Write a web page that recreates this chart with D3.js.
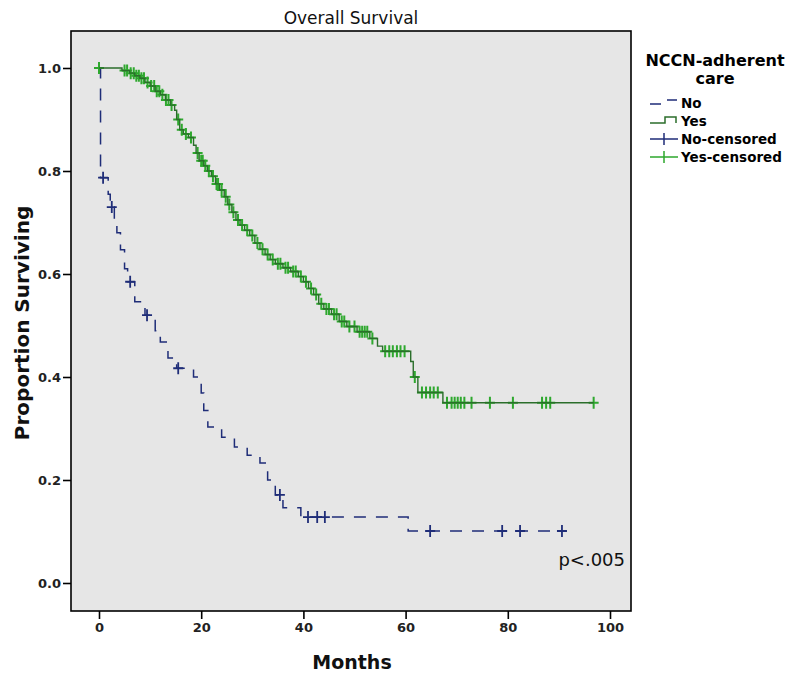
<!DOCTYPE html>
<html>
<head>
<meta charset="utf-8">
<script src="https://cdn.jsdelivr.net/npm/d3@7"></script>
<style>
  body { margin: 0; background: #fff; }
  text { font-family: "DejaVu Sans", Verdana, sans-serif; }
</style>
</head>
<body>
<div id="vis"></div>
<script>
// survival steps (months, proportion after the step)
var yesTimes = [4.5, 6, 7, 8, 9, 10, 11, 12, 13, 14, 14.8, 15.2, 15.8, 16.5, 17.5, 18.5, 19, 19.6,
  20.5, 21.2, 22, 22.8, 23.6, 24.5, 25.2, 26, 26.8, 27.6, 28.5, 29.5, 30.5, 31.5, 32.5, 33.5, 34.5,
  36, 37.5, 39, 40, 41, 42, 43, 44, 45.5, 47, 48.5, 50.5, 53, 54.5, 55.5, 61, 61.5, 62.4, 67.3];
var yesSurv = [0.995, 0.99, 0.985, 0.98, 0.972, 0.965, 0.955, 0.948, 0.938, 0.928, 0.918, 0.90, 0.88,
  0.872, 0.865, 0.85, 0.835, 0.82, 0.81, 0.80, 0.79, 0.775, 0.763, 0.75, 0.735, 0.72, 0.705, 0.695,
  0.685, 0.675, 0.66, 0.648, 0.638, 0.628, 0.62, 0.612, 0.605, 0.595, 0.585, 0.572, 0.56, 0.542,
  0.532, 0.522, 0.508, 0.498, 0.488, 0.475, 0.46, 0.45, 0.43, 0.40, 0.37, 0.35];
var yesCensored = [0, 5, 5.5, 6.2, 6.8, 7.3, 7.8, 8.3, 8.8, 9.5, 10.2, 10.8, 11.3, 11.8, 12.4, 13.1,
  13.6, 14.2, 15.5, 16.2, 17, 18, 19.3, 20, 20.3, 20.8, 21.5, 22.3, 23, 23.3, 24, 24.8, 25.5, 26.3,
  27.2, 28, 29, 30, 31, 32, 33, 34, 35, 35.5, 36.5, 37, 38, 38.5, 39.5, 40.5, 41.5, 42.5, 43.5,
  44.5, 45, 46, 46.5, 47.5, 48, 49, 50, 51, 51.5, 52, 52.5, 53.5, 56, 56.8, 57.5, 58.3, 59, 59.8,
  61.8, 63.2, 64, 64.8, 65.5, 66.3, 68.1, 69, 69.6, 70.2, 70.8, 71.5, 72.9, 76.5, 81, 86.7, 87.5,
  88.3, 96.8];

var noTimes = [0.3, 1.8, 2.2, 3.0, 3.5, 4.2, 5.0, 5.6, 7.0, 9.0, 11.0, 12.0, 13.5, 15.2, 18.5, 20.0,
  20.5, 21.3, 24.0, 26.5, 29.0, 31.5, 33.0, 34.5, 36.0, 39.5, 60.5];
var noSurv = [0.787, 0.755, 0.73, 0.70, 0.68, 0.647, 0.61, 0.585, 0.546, 0.52, 0.49, 0.468, 0.437,
  0.417, 0.40, 0.369, 0.335, 0.303, 0.283, 0.264, 0.248, 0.233, 0.20, 0.171, 0.146, 0.128, 0.101];
var noCensored = [0.8, 2.5, 6.1, 9.4, 15.5, 35.4, 40.9, 42.7, 44.2, 64.8, 78.9, 82.4, 90.6];

var xTicks = [0, 20, 40, 60, 80, 100];
var yTicks = [0, 0.2, 0.4, 0.6, 0.8, 1.0];
var legendLabels = ['No', 'Yes', 'No-censored', 'Yes-censored'];

var width = 800, height = 680;
var frame = { left: 71, right: 631, top: 31, bottom: 611 };
var blue = '#1f2d78', greenLine = '#2b6e2b', greenMark = '#2ea82e';

var svg = d3.select('#vis').append('svg')
  .attr('width', width)
  .attr('height', height);

var x = d3.scaleLinear().domain([0, 100]).range([99, 610]);
var y = d3.scaleLinear().domain([0, 1]).range([583, 68]);

// plot background and frame
svg.append('rect')
  .attr('x', frame.left)
  .attr('y', frame.top)
  .attr('width', frame.right - frame.left)
  .attr('height', frame.bottom - frame.top)
  .attr('fill', '#e6e6e6')
  .attr('stroke', '#000')
  .attr('stroke-width', 1.6);

// axes
var xAxis = svg.append('g')
  .attr('transform', 'translate(0,' + frame.bottom + ')')
  .call(d3.axisBottom(x).tickValues(xTicks).tickSize(8).tickPadding(4));
var yAxis = svg.append('g')
  .attr('transform', 'translate(' + frame.left + ',0)')
  .call(d3.axisLeft(y).tickValues(yTicks).tickSize(8).tickPadding(2).tickFormat(d3.format('.1f')));

[xAxis, yAxis].forEach(function (a) {
  a.select('.domain').remove();
  a.selectAll('line').attr('stroke', '#000').attr('stroke-width', 1.6);
  a.selectAll('text')
    .attr('fill', '#222')
    .style('font-family', '"DejaVu Sans", Verdana, sans-serif')
    .style('font-size', '13px')
    .style('font-weight', 'bold');
});

// step helpers
function stepPoints(times, surv, end) {
  var pts = [[0, 1]];
  times.forEach(function (t, i) { pts.push([t, surv[i]]); });
  pts.push([end, surv[surv.length - 1]]);
  return pts;
}
function survAt(times, surv, t) {
  var s = 1;
  times.forEach(function (tt, i) { if (tt <= t) s = surv[i]; });
  return s;
}

var line = d3.line()
  .x(function (d) { return x(d[0]); })
  .y(function (d) { return y(d[1]); })
  .curve(d3.curveStepAfter);

svg.append('path')
  .datum(stepPoints(noTimes, noSurv, d3.max(noCensored)))
  .attr('d', line)
  .attr('fill', 'none')
  .attr('stroke', blue)
  .attr('stroke-width', 1.5)
  .attr('stroke-dasharray', '12,10');

// censor marks
function plusPath(cx, cy, w, h) {
  return 'M' + (cx - w / 2) + ',' + cy + 'H' + (cx + w / 2) +
    'M' + cx + ',' + (cy - h / 2) + 'V' + (cy + h / 2);
}

svg.append('g').selectAll('path')
  .data(noCensored)
  .enter()
  .append('path')
  .attr('d', function (d) { return plusPath(x(d), y(survAt(noTimes, noSurv, d)), 10, 12); })
  .attr('stroke', blue)
  .attr('stroke-width', 1.8)
  .attr('fill', 'none');

svg.append('g').selectAll('path')
  .data(yesCensored)
  .enter()
  .append('path')
  .attr('d', function (d) { return plusPath(x(d), y(survAt(yesTimes, yesSurv, d)), 10, 12); })
  .attr('stroke', greenMark)
  .attr('stroke-width', 2)
  .attr('fill', 'none');

svg.append('path')
  .datum(stepPoints(yesTimes, yesSurv, d3.max(yesCensored)))
  .attr('d', line)
  .attr('fill', 'none')
  .attr('stroke', greenLine)
  .attr('stroke-width', 1.4);

// titles
svg.append('text')
  .attr('x', 351)
  .attr('y', 24)
  .attr('text-anchor', 'middle')
  .style('font-size', '17px')
  .attr('fill', '#111')
  .text('Overall Survival');

svg.append('text')
  .attr('x', 352)
  .attr('y', 669)
  .attr('text-anchor', 'middle')
  .style('font-size', '19px')
  .style('font-weight', 'bold')
  .attr('fill', '#111')
  .text('Months');

svg.append('text')
  .attr('transform', 'translate(29,323) rotate(-90)')
  .attr('text-anchor', 'middle')
  .style('font-size', '20px')
  .style('font-weight', 'bold')
  .attr('fill', '#111')
  .text('Proportion Surviving');

svg.append('text')
  .attr('x', 625)
  .attr('y', 566)
  .attr('text-anchor', 'end')
  .style('font-size', '18px')
  .attr('fill', '#111')
  .text('p<.005');

// legend
var lg = svg.append('g');
lg.append('text')
  .attr('x', 715).attr('y', 66)
  .attr('text-anchor', 'middle')
  .style('font-size', '16px').style('font-weight', 'bold')
  .text('NCCN-adherent');
lg.append('text')
  .attr('x', 715).attr('y', 84)
  .attr('text-anchor', 'middle')
  .style('font-size', '16px').style('font-weight', 'bold')
  .text('care');

var rowY = [103, 121, 139, 157];
lg.selectAll('.lab')
  .data(legendLabels)
  .enter()
  .append('text')
  .attr('class', 'lab')
  .attr('x', 681)
  .attr('y', function (d, i) { return rowY[i] + 5; })
  .style('font-size', '13.5px').style('font-weight', 'bold')
  .text(function (d) { return d; });

lg.append('path')
  .attr('d', 'M650,' + (rowY[0] + 1) + 'H661M667,' + (rowY[0] - 3) + 'H677')
  .attr('stroke', blue).attr('stroke-width', 1.5).attr('fill', 'none');
lg.append('path')
  .attr('d', 'M650,' + (rowY[1] + 2) + 'H665V' + (rowY[1] - 4) + 'H676V' + (rowY[1] + 2))
  .attr('stroke', greenLine).attr('stroke-width', 1.5).attr('fill', 'none');
lg.append('path')
  .attr('d', 'M650,' + rowY[2] + 'H678' + plusPath(664, rowY[2], 2, 12))
  .attr('stroke', blue).attr('stroke-width', 1.5).attr('fill', 'none');
lg.append('path')
  .attr('d', 'M650,' + rowY[3] + 'H678' + plusPath(664, rowY[3], 2, 12))
  .attr('stroke', greenMark).attr('stroke-width', 1.5).attr('fill', 'none');
</script>
</body>
</html>
